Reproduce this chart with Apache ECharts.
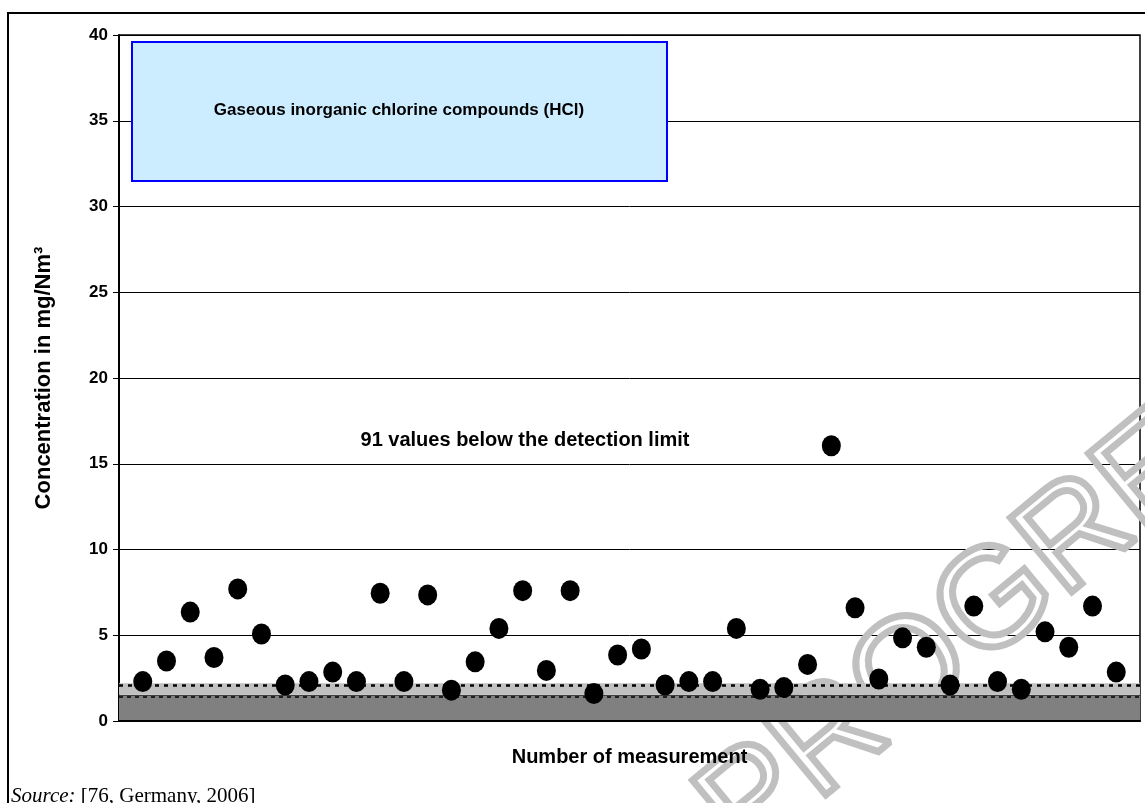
<!DOCTYPE html>
<html>
<head>
<meta charset="utf-8">
<script src="https://cdn.jsdelivr.net/npm/echarts@6/dist/echarts.min.js"></script>
<style>
html,body{margin:0;padding:0;background:#fff;}
#chart{width:1145px;height:803px;}
</style>
</head>
<body>
<div id="chart"></div>
<script>
// Measurement numbers (x positions on value axis 0..43)
const measurements = [1,2,3,4,5,6,7,8,9,10,11,12,13,14,15,16,17,18,19,20,21,22,23,24,25,26,27,28,29,30,31,32,33,34,35,36,37,38,39,40,41,42];
// Concentrations in mg/Nm3
const concentrations = [2.3,3.5,6.35,3.7,7.7,5.07,2.1,2.3,2.85,2.3,7.45,2.3,7.35,1.8,3.45,5.4,7.6,2.95,7.6,1.6,3.85,4.2,2.1,2.3,2.3,5.4,1.85,1.95,3.3,16.05,6.6,2.45,4.85,4.3,2.1,6.7,2.3,1.85,5.2,4.3,6.7,2.85];
const yTicks = [0,5,10,15,20,25,30,35,40];
const darkBand = [0, 1.53];
const lightBand = [1.53, 2.2];
const dottedLimits = [2.1, 1.42];
const legendText = 'Gaseous inorganic chlorine compounds (HCl)';
const noteText = '91 values below the detection limit';
const yName = 'Concentration in mg/Nm³';
const xName = 'Number of measurement';

const chart = echarts.init(document.getElementById('chart'));
const F = 'Liberation Sans, Arial, sans-serif';

const option = {
  animation: false,
  backgroundColor: '#fff',
  grid: {left: 119, top: 35, right: 5, bottom: 82, show: true, borderColor: '#000', borderWidth: 1.5, backgroundColor: 'transparent'},
  xAxis: {
    type: 'value', min: 0, max: 43, z: 6,
    name: xName, nameLocation: 'middle', nameGap: 26,
    nameTextStyle: {fontFamily: F, fontWeight: 'bold', fontSize: 20, color: '#000'},
    axisLine: {show: true, lineStyle: {color: '#000', width: 2}},
    axisTick: {show: false}, axisLabel: {show: false}, splitLine: {show: false}
  },
  yAxis: {
    type: 'value', min: 0, max: 40, interval: 5,
    name: yName, nameLocation: 'middle', nameGap: 64, nameRotate: 90,
    nameTextStyle: {fontFamily: F, fontWeight: 'bold', fontSize: 22, color: '#000'},
    axisLine: {show: true, lineStyle: {color: '#000', width: 2}},
    axisTick: {show: true, inside: false, length: 6, lineStyle: {color: '#000', width: 1}},
    axisLabel: {fontFamily: F, fontWeight: 'bold', fontSize: 17, color: '#000', margin: 11,
      formatter: v => yTicks.includes(v) ? String(v) : ''},
    splitLine: {show: true, lineStyle: {color: '#000', width: 1}}
  },
  series: [
    {
      type: 'line', data: [], silent: true, z: 3,
      markArea: {
        silent: true,
        itemStyle: {opacity: 1},
        data: [
          [{yAxis: darkBand[0], itemStyle: {color: '#808080'}}, {yAxis: darkBand[1]}],
          [{yAxis: lightBand[0], itemStyle: {color: '#C0C0C0'}}, {yAxis: lightBand[1]}]
        ]
      },
      markLine: {
        silent: true, symbol: 'none', label: {show: false},
        data: [
          {yAxis: dottedLimits[0], lineStyle: {color: '#000', width: 2.5, type: [4, 5]}},
          {yAxis: dottedLimits[1], lineStyle: {color: '#000', width: 1.5, type: [4, 4]}},
          {yAxis: darkBand[1], lineStyle: {color: '#404040', width: 1, type: 'solid'}}
        ]
      }
    },
    {
      type: 'scatter', z: 5,
      data: measurements.map((m, i) => [m, concentrations[i]]),
      symbol: 'circle', symbolSize: [19, 21],
      itemStyle: {color: '#000', opacity: 1}
    }
  ],
  graphic: {
    elements: [
      {type: 'text', x: 765, y: 886, rotation: 0.69, z: 1, silent: true, style: {
        text: 'PROGRESS', font: '140px ' + F, fill: 'rgba(0,0,0,0)', stroke: '#C0C0C0', lineWidth: 7,
        textAlign: 'left', textVerticalAlign: 'bottom'}},
      {type: 'polyline', z: 10, shape: {points: [[8, 803], [8, 13], [1145, 13]]}, style: {stroke: '#000', lineWidth: 2, fill: null}},
      {type: 'rect', z: 10, shape: {x: 132, y: 42, width: 535, height: 139}, style: {fill: '#CCECFF', stroke: '#0000FF', lineWidth: 2}},
      {type: 'text', z: 11, x: 399, y: 110, style: {text: legendText, font: 'bold 17px ' + F, fill: '#000', textAlign: 'center', textVerticalAlign: 'middle'}},
      {type: 'text', z: 11, x: 525, y: 440, style: {text: noteText, font: 'bold 20px ' + F, fill: '#000', textAlign: 'center', textVerticalAlign: 'middle'}},
      {type: 'text', z: 11, x: 11, y: 796, style: {
        text: '{i|Source:} [76, Germany, 2006]',
        rich: {i: {fontStyle: 'italic', fontFamily: 'Liberation Serif, Times New Roman, serif', fontSize: 21, fill: '#000'}},
        font: '21px Liberation Serif, Times New Roman, serif', fill: '#000', textVerticalAlign: 'middle'}}
    ]
  }
};
chart.setOption(option);
</script>
</body>
</html>
